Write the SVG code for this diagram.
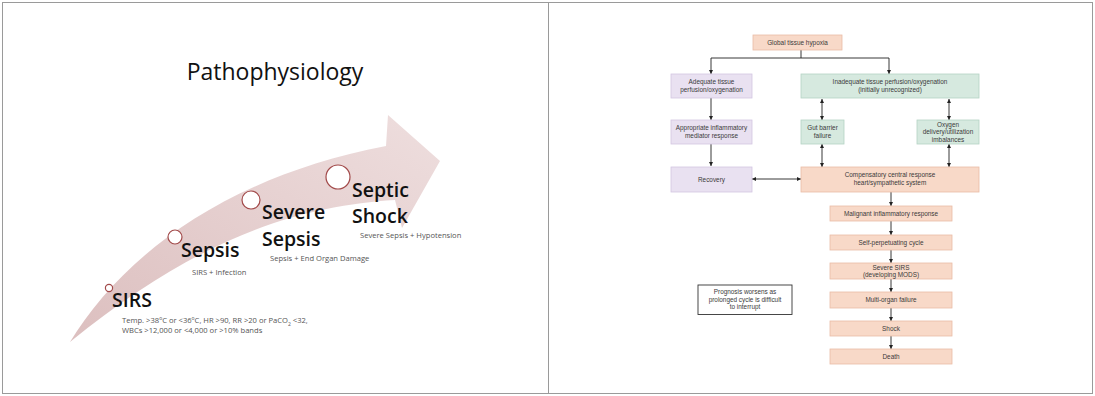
<svg xmlns="http://www.w3.org/2000/svg" width="1095" height="396" viewBox="0 0 1095 396">
<style>
.h{font-family:"Open Sans","Liberation Sans",sans-serif;font-weight:600;font-size:19.5px;fill:#111}
.cap{font-family:"Open Sans","Liberation Sans",sans-serif;font-size:7.6px;fill:#555}
.t{font-family:"Liberation Sans",Arial,sans-serif;font-size:6.4px;fill:#3a3a3a;text-anchor:middle}
.pe{fill:#f8d9c8;stroke:#e9bca6;stroke-width:0.8}
.la{fill:#e9e1f1;stroke:#d3c6e2;stroke-width:0.8}
.gr{fill:#d6e9df;stroke:#b5d3c4;stroke-width:0.8}
.ln{stroke:#222;stroke-width:0.9;fill:none}
.dot{fill:#fff;stroke:#a24a4a;stroke-width:1.2}
</style>
<defs>
<marker id="ah" viewBox="0 0 6 6" refX="6" refY="3" markerWidth="4" markerHeight="4" orient="auto-start-reverse" markerUnits="userSpaceOnUse">
<path d="M0,0 L6,3 L0,6 Z" fill="#222"/>
</marker>
<linearGradient id="ag" x1="0" y1="1" x2="1" y2="0">
<stop offset="0" stop-color="#dcbfbf"/>
<stop offset="1" stop-color="#eedede"/>
</linearGradient>
</defs>
<rect x="2.5" y="2.5" width="1090" height="391" fill="#fff" stroke="#9a9a9a" stroke-width="1"/>
<line x1="548.5" y1="2.5" x2="548.5" y2="393.5" stroke="#9a9a9a" stroke-width="1"/>

<!-- Left panel -->
<text x="275" y="80" font-family="Open Sans, Liberation Sans, sans-serif" font-size="23" fill="#111" text-anchor="middle">Pathophysiology</text>
<path id="bigArrow" d="M70,342 C120,260 220,178 386,146 L388,115 L440,161 L402,228 L395,200 C300,206 200,236 70,342 Z" fill="url(#ag)"/>
<g id="sirs">
<circle class="dot" cx="109" cy="288" r="3.6"/>
<text class="h" x="112" y="307">SIRS</text>
<text class="cap" x="122" y="323">Temp. &gt;38<tspan baseline-shift="super" font-size="5">o</tspan>C or &lt;36<tspan baseline-shift="super" font-size="5">o</tspan>C, HR &gt;90, RR &gt;20 or PaCO<tspan baseline-shift="sub" font-size="5">2</tspan> &lt;32,</text>
<text class="cap" x="122" y="333">WBCs &gt;12,000 or &lt;4,000 or &gt;10% bands</text>
</g>
<g id="sepsis">
<circle class="dot" cx="175" cy="237" r="7"/>
<text class="h" x="181" y="257">Sepsis</text>
<text class="cap" x="192" y="275">SIRS + Infection</text>
</g>
<g id="severeSepsis">
<circle class="dot" cx="251" cy="200" r="9"/>
<text class="h" x="262" y="219">Severe</text>
<text class="h" x="262" y="246">Sepsis</text>
<text class="cap" x="270" y="261">Sepsis + End Organ Damage</text>
</g>
<g id="septicShock">
<circle class="dot" cx="338" cy="177" r="12"/>
<text class="h" x="352" y="197">Septic</text>
<text class="h" x="352" y="223">Shock</text>
<text class="cap" x="360" y="238">Severe Sepsis + Hypotension</text>
</g>

<!-- Right panel connectors -->
<g id="connectors">
<path class="ln" d="M801,50 V58 M711,58 H889"/>
<line class="ln" x1="711" y1="58" x2="711" y2="74" marker-end="url(#ah)"/>
<line class="ln" x1="889" y1="58" x2="889" y2="74" marker-end="url(#ah)"/>
<line class="ln" x1="711" y1="98" x2="711" y2="120" marker-end="url(#ah)"/>
<line class="ln" x1="711" y1="144" x2="711" y2="166" marker-end="url(#ah)"/>
<line class="ln" x1="822" y1="99" x2="822" y2="120" marker-start="url(#ah)" marker-end="url(#ah)"/>
<line class="ln" x1="949" y1="99" x2="949" y2="120" marker-start="url(#ah)" marker-end="url(#ah)"/>
<line class="ln" x1="822" y1="144" x2="822" y2="167" marker-start="url(#ah)" marker-end="url(#ah)"/>
<line class="ln" x1="949" y1="144" x2="949" y2="167" marker-start="url(#ah)" marker-end="url(#ah)"/>
<line class="ln" x1="752" y1="179" x2="801" y2="179" marker-start="url(#ah)" marker-end="url(#ah)"/>
<line class="ln" x1="891" y1="192" x2="891" y2="206" marker-end="url(#ah)"/>
<line class="ln" x1="891" y1="221" x2="891" y2="235" marker-end="url(#ah)"/>
<line class="ln" x1="891" y1="250" x2="891" y2="263" marker-end="url(#ah)"/>
<line class="ln" x1="891" y1="279" x2="891" y2="292" marker-end="url(#ah)"/>
<line class="ln" x1="891" y1="308" x2="891" y2="321" marker-end="url(#ah)"/>
<line class="ln" x1="891" y1="336" x2="891" y2="349" marker-end="url(#ah)"/>
</g>

<g id="global"><rect class="pe" x="753" y="35" width="89" height="15"/><text class="t" x="797.5" y="44.8">Global tissue hypoxia</text></g>
<g id="adequate"><rect class="la" x="671" y="74" width="81" height="24"/><text class="t" x="711.5" y="84">Adequate tissue</text><text class="t" x="711.5" y="92">perfusion/oxygenation</text></g>
<g id="inadequate"><rect class="gr" x="801" y="74" width="178" height="24"/><text class="t" x="890" y="84">Inadequate tissue perfusion/oxygenation</text><text class="t" x="890" y="92">(initially unrecognized)</text></g>
<g id="appropriate"><rect class="la" x="671" y="120" width="81" height="24"/><text class="t" x="711.5" y="130">Appropriate inflammatory</text><text class="t" x="711.5" y="138">mediator response</text></g>
<g id="gut"><rect class="gr" x="801" y="120" width="43" height="24"/><text class="t" x="822.5" y="130">Gut barrier</text><text class="t" x="822.5" y="138">failure</text></g>
<g id="oxygen"><rect class="gr" x="917" y="120" width="62" height="24"/><text class="t" x="948" y="126.5">Oxygen</text><text class="t" x="948" y="134">delivery/utilization</text><text class="t" x="948" y="141.5">imbalances</text></g>
<g id="recovery"><rect class="la" x="671" y="167" width="81" height="25"/><text class="t" x="711.5" y="181.5">Recovery</text></g>
<g id="compensatory"><rect class="pe" x="801" y="167" width="178" height="25"/><text class="t" x="890" y="177">Compensatory central response</text><text class="t" x="890" y="185">heart/sympathetic system</text></g>
<g id="malignant"><rect class="pe" x="830" y="206" width="122" height="15"/><text class="t" x="891" y="215.8">Malignant inflammatory response</text></g>
<g id="selfperp"><rect class="pe" x="830" y="235" width="122" height="15"/><text class="t" x="891" y="244.8">Self-perpetuating cycle</text></g>
<g id="severeSIRS"><rect class="pe" x="830" y="263" width="122" height="16"/><text class="t" x="891" y="269.8">Severe SIRS</text><text class="t" x="891" y="277">(developing MODS)</text></g>
<g id="multiorgan"><rect class="pe" x="830" y="292" width="122" height="16"/><text class="t" x="891" y="302.2">Multi-organ failure</text></g>
<g id="shock"><rect class="pe" x="830" y="321" width="122" height="15"/><text class="t" x="891" y="330.8">Shock</text></g>
<g id="death"><rect class="pe" x="830" y="349" width="122" height="15"/><text class="t" x="891" y="358.8">Death</text></g>
<g id="prognosis"><rect x="698" y="285" width="94" height="29.5" fill="#fff" stroke="#333" stroke-width="0.9"/><text class="t" x="745" y="294">Prognosis worsens as</text><text class="t" x="745" y="301.5">prolonged cycle is difficult</text><text class="t" x="745" y="309">to interrupt</text></g>
</svg>
